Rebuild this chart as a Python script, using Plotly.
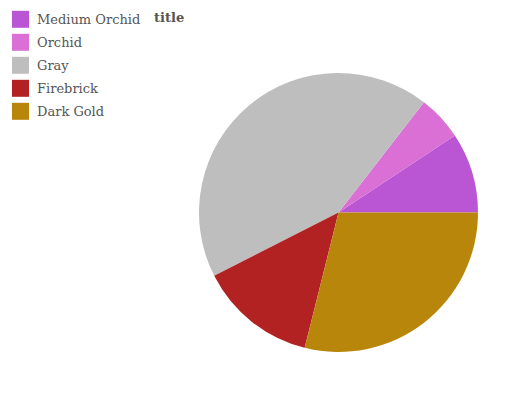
import plotly.graph_objects as go

labels = ["Medium Orchid", "Orchid", "Gray", "Firebrick", "Dark Gold"]
values = [9.3, 5.2, 43.0, 13.6, 28.9]
colors = ["#BA55D3", "#DA70D6", "#BEBEBE", "#B22222", "#B8860B"]

W, H = 532, 400
# page has an 8px body margin, positions below are in figure coordinates
cx, cy, r = 330.5, 204.5, 139.5

first_share = 360.0 * values[0] / sum(values)

fig = go.Figure(go.Pie(
    labels=labels, values=values, sort=False,
    direction="counterclockwise", rotation=90 - first_share,
    marker=dict(colors=colors, line=dict(width=0)),
    textinfo="none", hoverinfo="label+value",
    showlegend=False,
    domain=dict(x=[(cx - r) / W, (cx + r) / W], y=[(H - cy - r) / H, (H - cy + r) / H]),
))

font_family = "DejaVu Serif"
shapes = []
annotations = []
for i, (lab, col) in enumerate(zip(labels, colors)):
    yc = 11.3 + 23 * i
    shapes.append(dict(type="rect", xref="paper", yref="paper",
                       x0=4 / W, x1=21 / W, y0=1 - (yc + 8.5) / H, y1=1 - (yc - 8.5) / H,
                       fillcolor=col, line=dict(width=0)))
    annotations.append(dict(xref="paper", yref="paper", x=27 / W, y=1 - yc / H,
                            xanchor="left", yanchor="middle", showarrow=False,
                            text=lab, font=dict(family=font_family, size=13, color="#555555")))

annotations.append(dict(xref="paper", yref="paper", x=144 / W, y=1 - 9.3 / H,
                        xanchor="left", yanchor="middle", showarrow=False,
                        text="<b>title</b>", font=dict(family=font_family, size=13, color="#555555")))

fig.update_layout(
    width=W, height=H, margin=dict(l=0, r=0, t=0, b=0),
    paper_bgcolor="white", plot_bgcolor="white",
    shapes=shapes, annotations=annotations,
)

fig.write_html("out.html")
